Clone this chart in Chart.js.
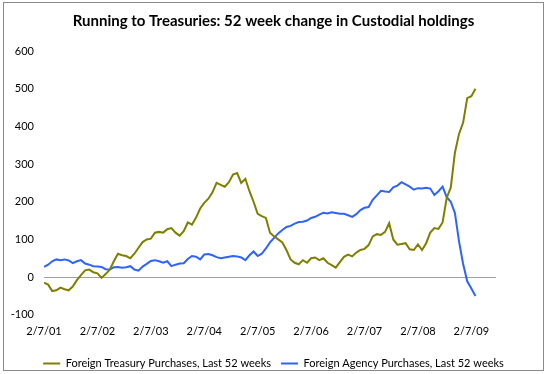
<!DOCTYPE html>
<html>
<head>
<meta charset="utf-8">
<script src="https://cdn.jsdelivr.net/npm/chart.js@4/dist/chart.umd.min.js"></script>
<style>
  html, body { margin: 0; padding: 0; background: #fff; }
  #wrap { position: relative; width: 547px; height: 374px; }
</style>
</head>
<body>
<div id="wrap"><canvas id="c" width="547" height="374"></canvas></div>
<script>
// Samples every 4 weeks starting 2/7/01 (week 0)
const sampleStepWeeks = 4;
const xTickWeeks = [0, 52, 104, 156, 208, 260, 312, 364, 416];
const xTickLabels = ["2/7/01", "2/7/02", "2/7/03", "2/7/04", "2/7/05", "2/7/06", "2/7/07", "2/7/08", "2/7/09"];
const seriesNames = ["Foreign Treasury Purchases, Last 52 weeks", "Foreign Agency Purchases, Last 52 weeks"];

const treasury = [
  -15, -20, -37, -35, -28, -32, -35, -25, -8, 5,
  18, 20, 13, 10, -2, 8, 20, 42, 62, 58,
  56, 50, 62, 78, 93, 100, 102, 118, 120, 118,
  127, 130, 118, 110, 122, 145, 139, 158, 182, 197,
  208, 225, 250, 245, 240, 252, 272, 276, 250, 261,
  228, 200, 168, 162, 157, 118, 108, 100, 92, 72,
  47, 38, 34, 45, 38, 50, 52, 45, 50, 38,
  32, 25, 40, 54, 60, 55, 65, 72, 75, 85,
  108, 114, 112, 120, 143, 100, 86, 88, 90, 74,
  72, 87, 72, 90, 118, 130, 128, 145, 210, 238,
  330, 380, 410, 475, 480, 500
];

const agency = [
  27, 33, 42, 47, 45, 47, 44, 37, 42, 45,
  36, 33, 29, 28, 27, 21, 20, 26, 27, 25,
  26, 29, 20, 17, 28, 35, 43, 45, 42, 38,
  42, 29, 33, 36, 37, 48, 56, 54, 47, 60,
  61, 58, 53, 50, 52, 54, 56, 55, 52, 45,
  58, 68, 56, 62, 76, 92, 104, 116, 125, 133,
  136, 142, 146, 147, 150, 157, 160, 166, 171, 169,
  172, 170, 168, 168, 164, 160, 167, 178, 184, 186,
  205, 217, 229, 227, 226, 238, 243, 252, 246, 240,
  232, 236, 235, 237, 235, 218, 228, 240, 212, 200,
  170, 95, 35, -11, -30, -50
];

const toPoints = arr => arr.map((v, i) => ({ x: i * sampleStepWeeks, y: v }));

const FONT = "Lato, 'Liberation Sans', sans-serif";
const olive = "#7F7F00";
const blue = "#2F63FF";

const borderPlugin = {
  id: "outerBorder",
  beforeDraw(chart) {
    const ctx = chart.ctx;
    ctx.save();
    ctx.fillStyle = "#ffffff";
    ctx.fillRect(0, 0, chart.width, chart.height);
    ctx.strokeStyle = "#8a8a8a";
    ctx.lineWidth = 1;
    ctx.strokeRect(3.5, 2.5, 540, 368);
    ctx.restore();
  }
};

new Chart(document.getElementById("c"), {
  type: "line",
  data: {
    datasets: [
      { label: seriesNames[0], data: toPoints(treasury), borderColor: olive, backgroundColor: olive, borderWidth: 2, pointRadius: 0, tension: 0 },
      { label: seriesNames[1], data: toPoints(agency), borderColor: blue, backgroundColor: blue, borderWidth: 2, pointRadius: 0, tension: 0 }
    ]
  },
  options: {
    responsive: false,
    animation: false,
    events: [],
    layout: { padding: { left: 0, right: 0, top: 0, bottom: -5 } },
    plugins: {
      title: {
        display: true,
        text: "Running to Treasuries: 52 week change in Custodial holdings",
        font: { family: FONT, size: 15, weight: "bold" },
        color: "#000",
        padding: { top: 12, bottom: 21 }
      },
      legend: {
        display: true,
        position: "bottom",
        labels: {
          font: { family: FONT, size: 11 },
          color: "#000",
          boxWidth: 17,
          boxHeight: 2,
          padding: 10,
          generateLabels(chart) {
            return chart.data.datasets.map((ds, i) => ({
              text: ds.label,
              fillStyle: ds.borderColor,
              strokeStyle: ds.borderColor,
              lineWidth: 0,
              hidden: false,
              datasetIndex: i,
              fontColor: "#000"
            }));
          }
        }
      },
      tooltip: { enabled: false }
    },
    scales: {
      x: {
        type: "linear",
        min: 0,
        max: 440,
        afterBuildTicks(scale) {
          scale.ticks = xTickWeeks.map(v => ({ value: v }));
        },
        ticks: {
          autoSkip: false,
          maxRotation: 0,
          minRotation: 0,
          padding: 10,
          color: "#000",
          font: { family: FONT, size: 11 }
          ,
          callback(value) {
            const idx = xTickWeeks.indexOf(value);
            return idx >= 0 ? xTickLabels[idx] : "";
          }
        },
        grid: { display: false, drawTicks: false },
        border: { display: false }
      },
      y: {
        min: -100,
        max: 600,
        afterFit(scale) { scale.width = 44; },
        ticks: {
          stepSize: 100,
          padding: 10,
          color: "#000",
          font: { family: FONT, size: 11 }
        },
        grid: {
          drawTicks: false,
          lineWidth: 1,
          color: ctx => (ctx.tick && ctx.tick.value === 0 ? "#a0a0a0" : "rgba(0,0,0,0)")
        },
        border: { display: false }
      },
      yRightSpacer: {
        position: "right",
        min: -100,
        max: 600,
        afterFit(scale) { scale.width = 51; },
        ticks: { display: false },
        grid: { display: false, drawTicks: false },
        border: { display: false }
      }
    }
  },
  plugins: [borderPlugin]
});
</script>
</body>
</html>
